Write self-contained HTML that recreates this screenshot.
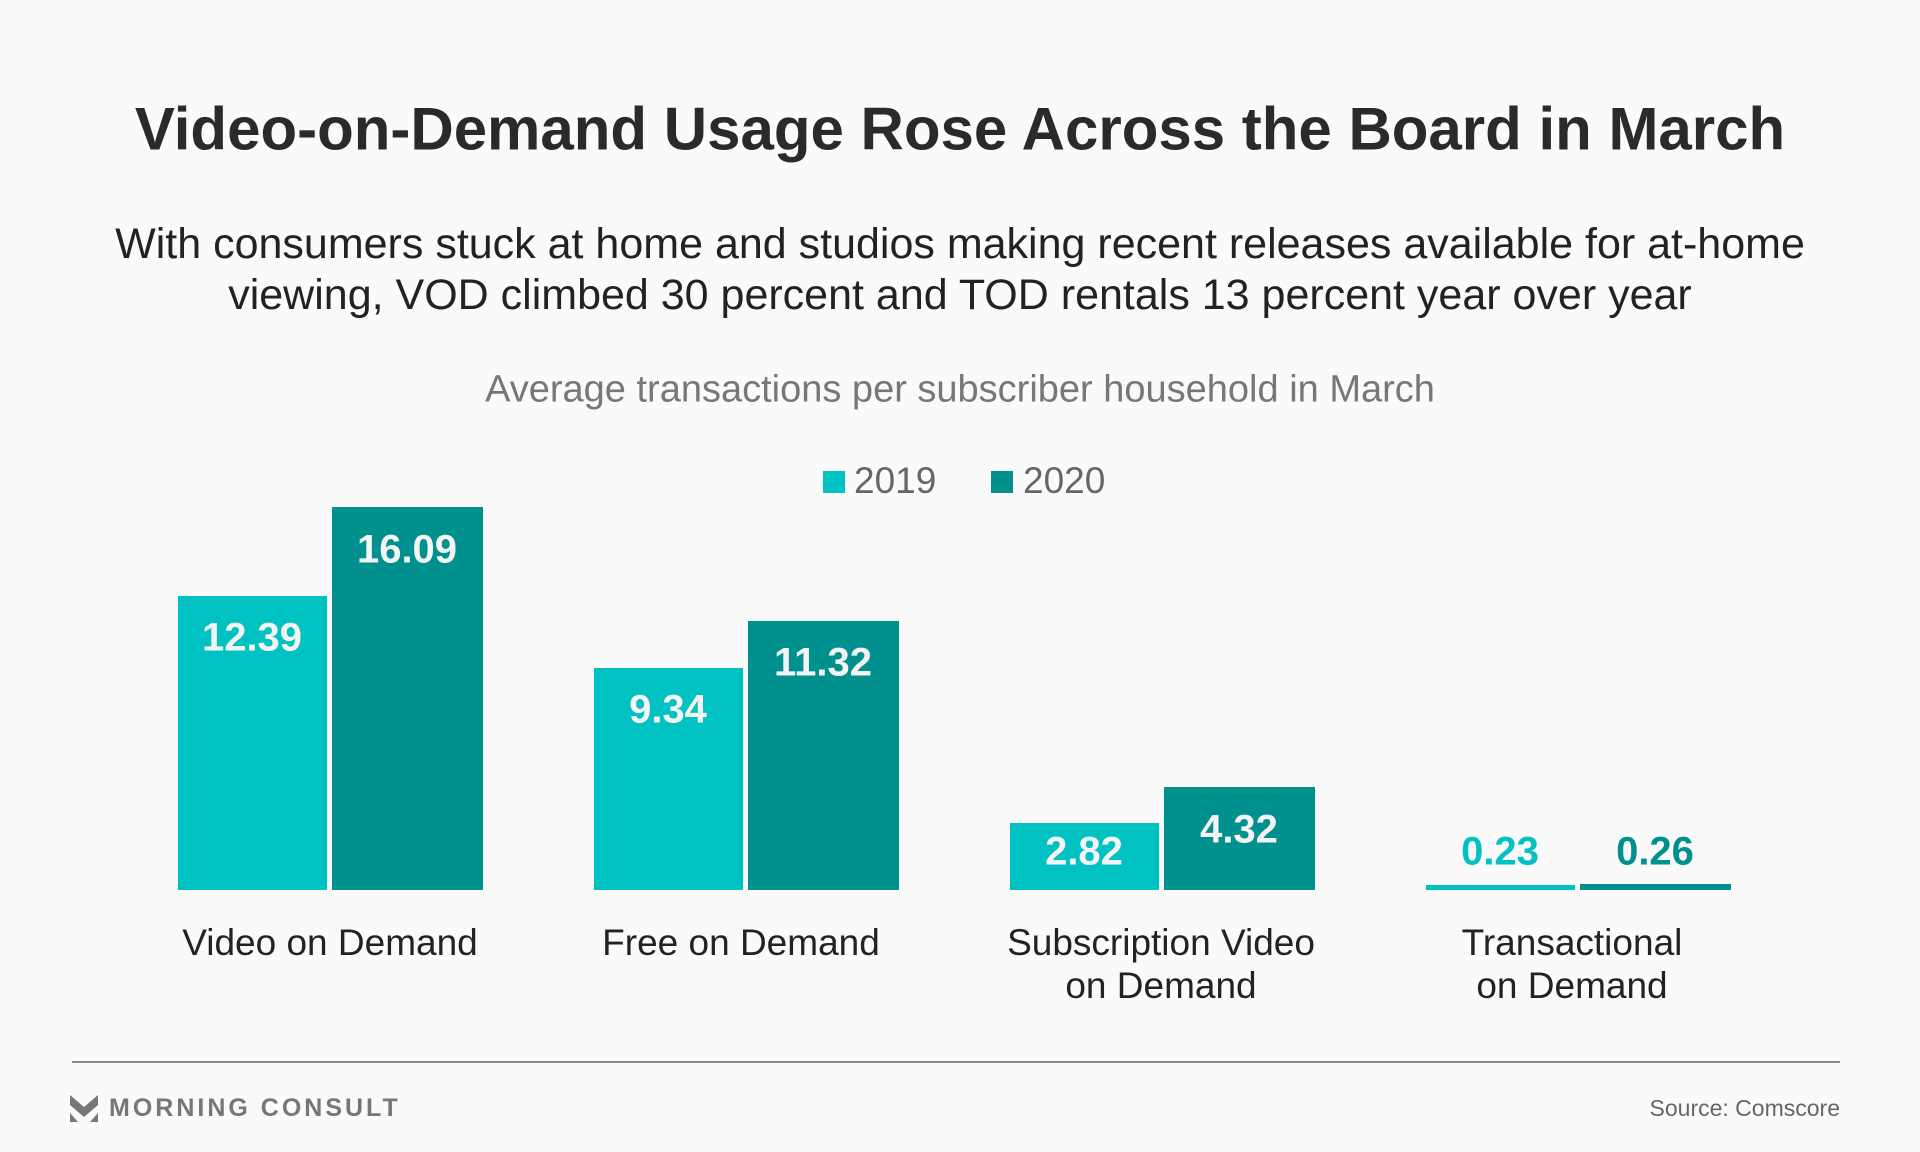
<!DOCTYPE html>
<html><head><meta charset="utf-8"><style>
body{margin:0;width:1920px;height:1152px;background:#fafafa;font-family:"Liberation Sans",sans-serif;position:relative;overflow:hidden}
.a{position:absolute;white-space:nowrap}
.c{transform:translate(-50%,-50%)}
.bar{position:absolute}
.v{position:absolute;transform:translate(-50%,-50%);font-weight:bold;font-size:40px;color:#f4f4f4}
.cat{position:absolute;transform:translateX(-50%);text-align:center;font-size:37px;color:#222;line-height:43px}
</style></head><body>
<div class="a c" style="left:960px;top:129px;font-size:60px;font-weight:bold;color:#2a2a2a">Video-on-Demand Usage Rose Across the Board in March</div>
<div class="a c" style="left:960px;top:270px;font-size:43px;color:#222;text-align:center;line-height:51px">With consumers stuck at home and studios making recent releases available for at-home<br>viewing, VOD climbed 30 percent and TOD rentals 13 percent year over year</div>
<div class="a c" style="left:960px;top:390px;font-size:38px;color:#777">Average transactions per subscriber household in March</div>
<div class="bar" style="left:823px;top:471px;width:22px;height:22px;background:#00c2c2"></div>
<div class="a" style="left:854px;top:460px;font-size:37px;color:#666">2019</div>
<div class="bar" style="left:991px;top:471px;width:22px;height:22px;background:#00918e"></div>
<div class="a" style="left:1023px;top:460px;font-size:37px;color:#666">2020</div>

<div class="bar" style="left:178px;top:596px;width:149px;height:294px;background:#00c2c2"></div>
<div class="bar" style="left:332px;top:507px;width:151px;height:383px;background:#00918e"></div>
<div class="v" style="left:252px;top:638px">12.39</div>
<div class="v" style="left:407px;top:550px">16.09</div>

<div class="bar" style="left:594px;top:668px;width:149px;height:222px;background:#00c2c2"></div>
<div class="bar" style="left:748px;top:621px;width:151px;height:269px;background:#00918e"></div>
<div class="v" style="left:668px;top:710px">9.34</div>
<div class="v" style="left:823px;top:663px">11.32</div>

<div class="bar" style="left:1010px;top:823px;width:149px;height:67px;background:#00c2c2"></div>
<div class="bar" style="left:1164px;top:787px;width:151px;height:103px;background:#00918e"></div>
<div class="v" style="left:1084px;top:852px">2.82</div>
<div class="v" style="left:1239px;top:830px">4.32</div>

<div class="bar" style="left:1426px;top:885px;width:149px;height:5px;background:#00c2c2"></div>
<div class="bar" style="left:1580px;top:884px;width:151px;height:6px;background:#00918e"></div>
<div class="v" style="left:1500px;top:852px;color:#00c2c2">0.23</div>
<div class="v" style="left:1655px;top:852px;color:#00918e">0.26</div>

<div class="cat" style="left:330px;top:921px">Video on Demand</div>
<div class="cat" style="left:741px;top:921px">Free on Demand</div>
<div class="cat" style="left:1161px;top:921px">Subscription Video<br>on Demand</div>
<div class="cat" style="left:1572px;top:921px">Transactional<br>on Demand</div>

<div class="bar" style="left:72px;top:1061px;width:1768px;height:2px;background:#888"></div>
<svg class="a" style="left:70px;top:1095px" width="28" height="27" viewBox="0 0 28 27"><polygon points="0,0 14,12 28,0 28,10 14,22 0,10" fill="#777"/><polygon points="0,18 8,27 0,27" fill="#777"/><polygon points="28,18 20,27 28,27" fill="#777"/></svg>
<div class="a" style="left:109px;top:1094px;font-size:25px;font-weight:bold;letter-spacing:3px;color:#777">MORNING CONSULT</div>
<div class="a" style="right:80px;top:1095px;font-size:23px;color:#666">Source: Comscore</div>
</body></html>
